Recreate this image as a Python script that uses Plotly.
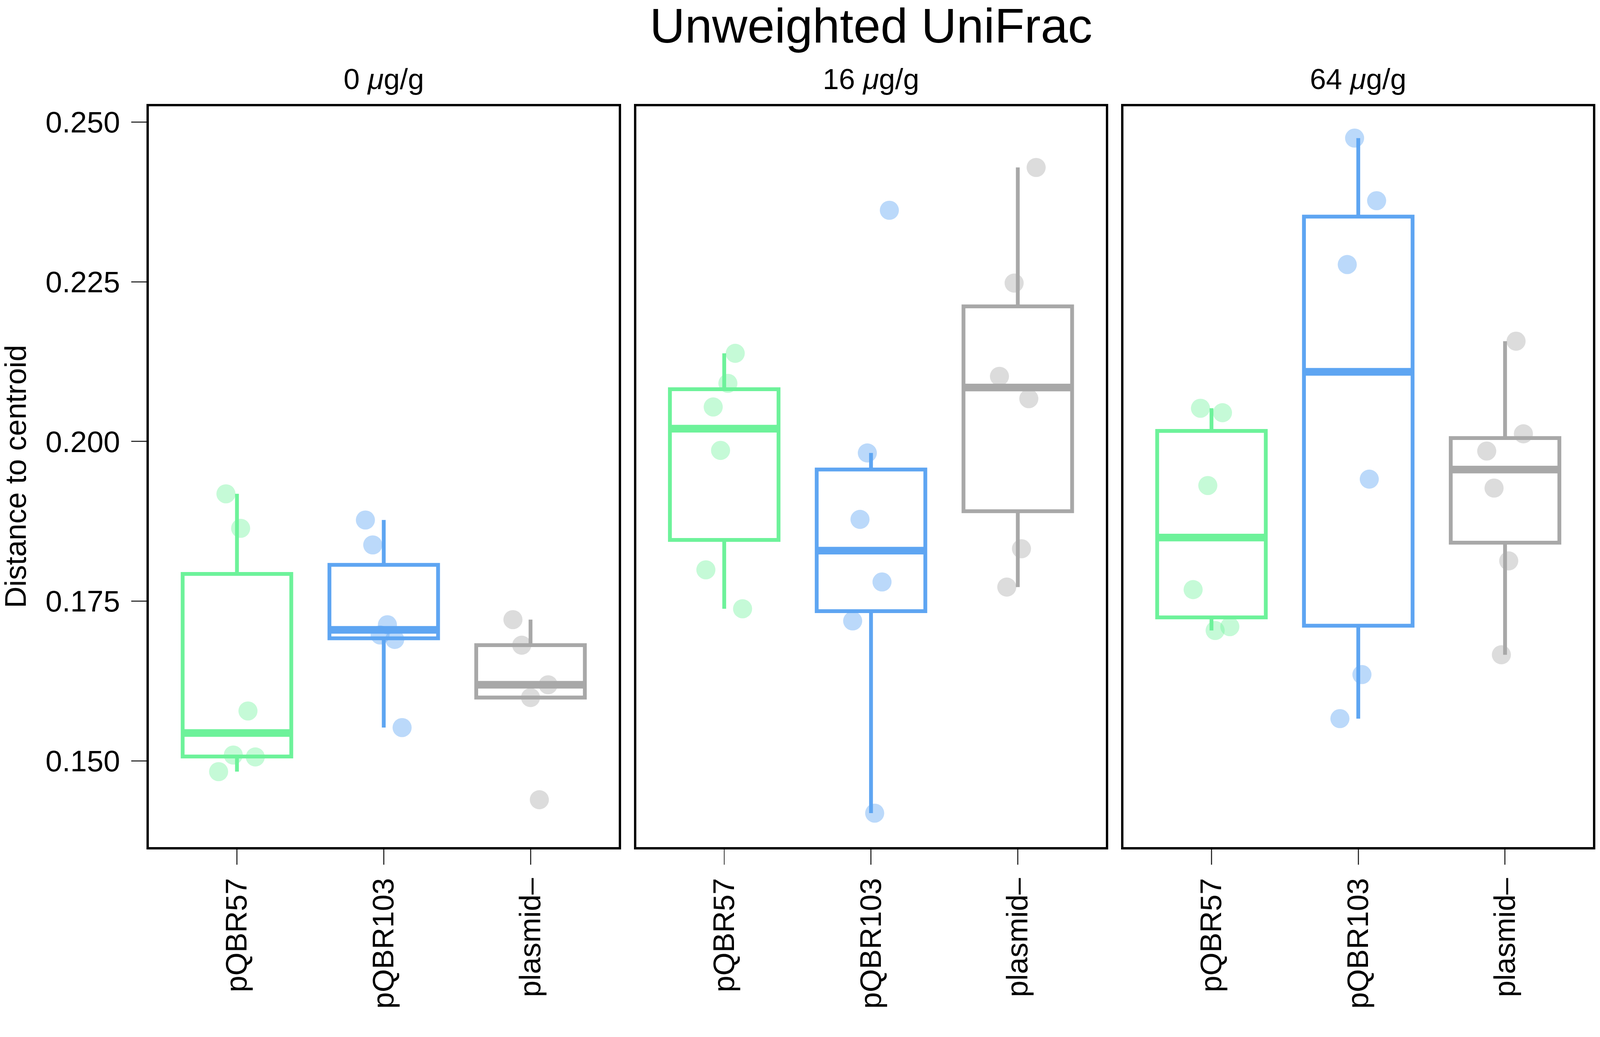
import numpy as np
import plotly.graph_objects as go

# ---------------- data ----------------
panels = ["0 <i>μ</i>g/g", "16 <i>μ</i>g/g", "64 <i>μ</i>g/g"]
groups = ["pQBR57", "pQBR103", "plasmid–"]
group_pos = [1, 2, 3]

# distance to centroid per panel (dose) and group
p0_pQBR57 = [0.1918, 0.1864, 0.1578, 0.1509, 0.1506, 0.1483]
p0_pQBR103 = [0.1877, 0.1838, 0.1713, 0.1697, 0.1690, 0.1552]
p0_plasmid = [0.1721, 0.1681, 0.1619, 0.1599, 0.1439]

p16_pQBR57 = [0.2138, 0.2091, 0.2054, 0.1986, 0.1799, 0.1738]
p16_pQBR103 = [0.2362, 0.1982, 0.1878, 0.1780, 0.1719, 0.1418]
p16_plasmid = [0.2429, 0.2248, 0.2102, 0.2067, 0.1832, 0.1772]

p64_pQBR57 = [0.2052, 0.2045, 0.1931, 0.1768, 0.1710, 0.1704]
p64_pQBR103 = [0.2475, 0.2377, 0.2277, 0.1941, 0.1635, 0.1566]
p64_plasmid = [0.2157, 0.2012, 0.1985, 0.1927, 0.1813, 0.1666]

# horizontal jitter offsets (category units)
j0_pQBR57 = [-0.075, 0.025, 0.075, -0.025, 0.125, -0.125]
j0_pQBR103 = [-0.125, -0.075, 0.025, -0.025, 0.075, 0.125]
j0_plasmid = [-0.12, -0.06, 0.12, 0.0, 0.06]

j16_pQBR57 = [0.075, 0.025, -0.075, -0.025, -0.125, 0.125]
j16_pQBR103 = [0.125, -0.025, -0.075, 0.075, -0.125, 0.025]
j16_plasmid = [0.125, -0.025, -0.125, 0.075, 0.025, -0.075]

j64_pQBR57 = [-0.075, 0.075, -0.025, -0.125, 0.125, 0.025]
j64_pQBR103 = [-0.025, 0.125, -0.075, 0.075, 0.025, -0.125]
j64_plasmid = [0.075, 0.125, -0.125, -0.075, 0.025, -0.025]

y_ticks = [0.150, 0.175, 0.200, 0.225, 0.250]
y_ticktext = ["0.150", "0.175", "0.200", "0.225", "0.250"]

values = [
    [p0_pQBR57, p0_pQBR103, p0_plasmid],
    [p16_pQBR57, p16_pQBR103, p16_plasmid],
    [p64_pQBR57, p64_pQBR103, p64_plasmid],
]
jitters = [
    [j0_pQBR57, j0_pQBR103, j0_plasmid],
    [j16_pQBR57, j16_pQBR103, j16_plasmid],
    [j64_pQBR57, j64_pQBR103, j64_plasmid],
]

# ---------------- style ----------------
line_colors = ["#6DF29A", "#5EA5F2", "#A8A8A8"]
point_colors = ["rgba(109,242,154,0.40)", "rgba(94,165,242,0.42)", "rgba(168,168,168,0.40)"]
FONT = "Liberation Sans, Arial, Helvetica, sans-serif"
BOX_W = 0.74

W, H = 4191, 2654
ML, MR, MT, MB = 390, 13, 278, 427
plot_w = W - ML - MR
panel_w = 1232
gap = (plot_w - 3 * panel_w) / 2
domains = []
for i in range(3):
    a = i * (panel_w + gap) / plot_w
    b = (i * (panel_w + gap) + panel_w) / plot_w
    domains.append([a, min(b, 1.0)])


def box_stats(v):
    v = np.asarray(v, dtype=float)
    q1, med, q3 = np.percentile(v, [25, 50, 75])
    iqr = q3 - q1
    lo = v[v >= q1 - 1.5 * iqr].min()
    hi = v[v <= q3 + 1.5 * iqr].max()
    return q1, med, q3, lo, hi


fig = go.Figure()

for p in range(3):
    xa = "x" if p == 0 else f"x{p + 1}"
    ya = "y" if p == 0 else f"y{p + 1}"
    # jittered points first (below boxes)
    for g in range(3):
        vals = values[p][g]
        xs = [group_pos[g] + o for o in jitters[p][g]]
        fig.add_trace(go.Scatter(
            x=xs, y=vals, mode="markers", xaxis=xa, yaxis=ya,
            marker=dict(size=50, color=point_colors[g], line=dict(width=0)),
            showlegend=False, hoverinfo="y",
        ))
    for g in range(3):
        q1, med, q3, lo, hi = box_stats(values[p][g])
        fig.add_trace(go.Box(
            x=[group_pos[g]], q1=[q1], median=[med], q3=[q3],
            lowerfence=[lo], upperfence=[hi],
            xaxis=xa, yaxis=ya, width=BOX_W, whiskerwidth=0,
            line=dict(color=line_colors[g], width=10),
            fillcolor="rgba(0,0,0,0)", boxpoints=False,
            showlegend=False,
        ))
        # thicker median bar
        fig.add_trace(go.Scatter(
            x=[group_pos[g] - BOX_W / 2, group_pos[g] + BOX_W / 2], y=[med, med],
            mode="lines", xaxis=xa, yaxis=ya,
            line=dict(color=line_colors[g], width=20), showlegend=False,
            hoverinfo="skip",
        ))

axis_common = dict(
    showline=True, linecolor="black", linewidth=6, mirror=True,
    showgrid=False, zeroline=False,
    ticks="outside", ticklen=40, tickwidth=3, tickcolor="#333333",
    tickfont=dict(family=FONT, size=78, color="black"),
)

layout = dict(
    width=W, height=H,
    margin=dict(l=ML, r=MR, t=MT, b=MB),
    paper_bgcolor="white", plot_bgcolor="white",
    font=dict(family=FONT, color="black"),
    title=dict(text="Unweighted UniFrac", x=0.5, xref="paper",
               y=1 - 67 / H, yref="container", yanchor="middle", xanchor="center",
               font=dict(family=FONT, size=128, color="black")),
    showlegend=False,
)

for p in range(3):
    xk = "xaxis" if p == 0 else f"xaxis{p + 1}"
    yk = "yaxis" if p == 0 else f"yaxis{p + 1}"
    ya_name = "y" if p == 0 else f"y{p + 1}"
    xa_name = "x" if p == 0 else f"x{p + 1}"
    layout[xk] = dict(
        axis_common, domain=domains[p], range=[0.4, 3.6], anchor=ya_name,
        tickmode="array", tickvals=group_pos, ticktext=groups, tickangle=-90,
        ticklabelstandoff=4,
    )
    ydict = dict(axis_common, domain=[0, 1], range=[0.1365, 0.2525], anchor=xa_name,
                 tickmode="array", tickvals=y_ticks, ticktext=y_ticktext,
                 ticklabelstandoff=14)
    if p > 0:
        ydict.update(showticklabels=False, ticks="", matches="y")
    layout[yk] = ydict

annotations = []
for p in range(3):
    annotations.append(dict(
        text=panels[p], x=(domains[p][0] + domains[p][1]) / 2, y=1 + (MT - 206) / (H - MT - MB),
        xref="paper", yref="paper", xanchor="center", yanchor="middle", showarrow=False,
        font=dict(family=FONT, size=76, color="black"),
    ))
annotations.append(dict(
    text="Distance to centroid", x=(40 - ML) / plot_w, y=0.5, xref="paper", yref="paper",
    xanchor="center", yanchor="middle", textangle=-90, showarrow=False,
    font=dict(family=FONT, size=78, color="black"),
))
layout["annotations"] = annotations

fig.update_layout(**layout)

# fit the fixed-size figure into the browser viewport width (uniform scale)
fit_js = (
    "document.documentElement.style.margin='0';"
    "document.body.style.margin='0';document.body.style.padding='0';"
    "document.documentElement.style.overflow='hidden';document.body.style.overflow='hidden';"
    "var gd=document.getElementById('{plot_id}');"
    "var s=Math.min(1, window.innerWidth/%d);"
    "gd.style.transformOrigin='0 0';"
    "gd.style.transform='scale('+s+')';" % W
)
fig.write_html("out.html", config={"displayModeBar": False}, post_script=fit_js)
